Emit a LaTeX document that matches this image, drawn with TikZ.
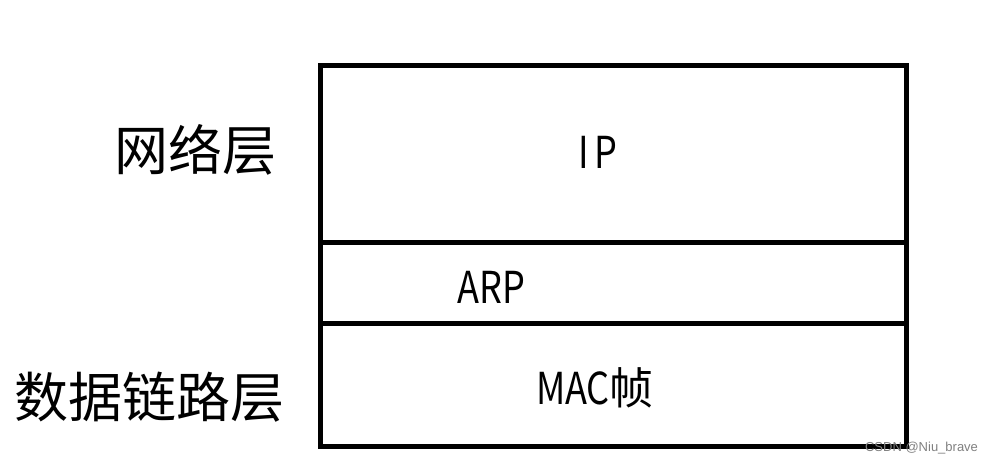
\documentclass[tikz,border=0pt]{standalone}
\usepackage{fontspec}
\newfontfamily\cjk{Noto Sans CJK SC}
\newfontfamily\narrowlatin[FakeStretch=0.82]{Noto Sans CJK SC}
\newfontfamily\markfont{Liberation Sans}
\usetikzlibrary{positioning}

\begin{document}
\begin{tikzpicture}[
        x=1pt, y=-1pt,
        node distance=0pt,
        every node/.style={inner sep=0pt, outer sep=0pt},
        layer/.style={draw=black, line width=5pt, rectangle, minimum width=586pt},
        layername/.style={font=\cjk\fontsize{54}{62}\selectfont},
        proto/.style={font=\narrowlatin\fontsize{44}{52}\selectfont}
    ]
        \useasboundingbox (0,0) rectangle (994,464);

        % protocol stack
        \node[layer, minimum height=177pt, anchor=north west] (ip) at (320,65) {};
        \node[layer, minimum height=81pt, below=of ip] (arp) {};
        \node[layer, minimum height=123pt, below=of arp] (mac) {};

        \node[proto] (iptext) at (598,152) {I\kern5pt P};
        \node[proto] (arptext) at (491,287) {ARP};
        \node[proto] (mactext) at (595,388) {MAC\cjk 帧};

        % layer names
        \node[layername] (net) at (195,150) {网络层};
        \node[layername] (link) at (150,397) {数据链路层};

        \node[font=\markfont\fontsize{13}{15}\selectfont, text=gray, anchor=east] (mark) at (978,448) {CSDN @Niu\_brave};
    \end{tikzpicture}
\end{document}
